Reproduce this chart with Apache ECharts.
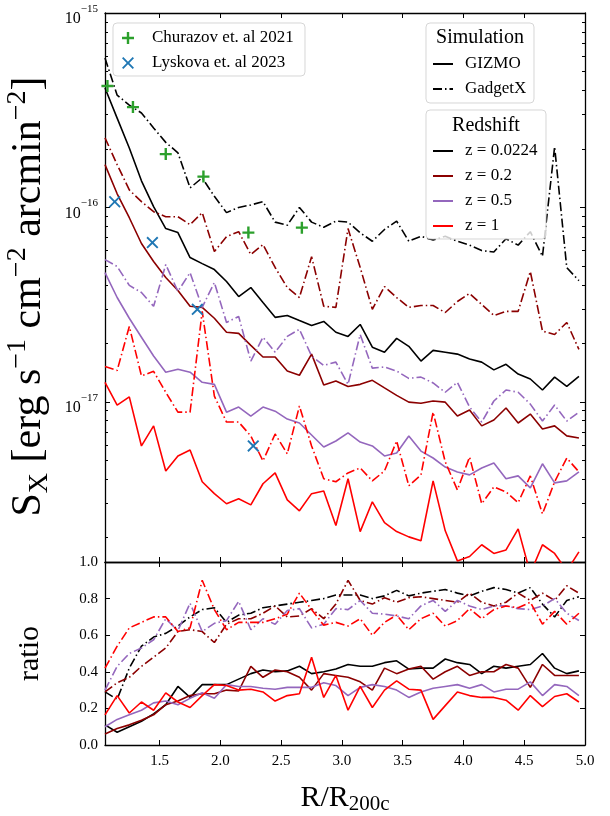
<!DOCTYPE html>
<html><head><meta charset="utf-8">
<script src="https://cdn.jsdelivr.net/npm/echarts@6/dist/echarts.min.js"></script>
<style>html,body{margin:0;padding:0;background:#fff}#c{width:610px;height:816px}</style>
</head><body><div id="c"></div>
<script>
// ---------------- data ----------------
const R = [1.05,1.15,1.25,1.35,1.45,1.55,1.65,1.75,1.85,1.95,2.05,2.15,2.25,2.35,2.45,2.55,2.65,2.75,2.85,2.95,
           3.05,3.15,3.25,3.35,3.45,3.55,3.65,3.75,3.85,3.95,4.05,4.15,4.25,4.35,4.45,4.55,4.65,4.75,4.85,4.95];
const SX_UNIT = 1e-17; // surface brightness arrays are in units of 1e-17 erg s^-1 cm^-2 arcmin^-2
const gizmo_z00224 = [41.1,28.8,20.2,13.7,10.1,7.78,7.42,5.52,5.14,4.79,4.16,3.48,3.87,3.24,2.72,2.78,2.62,2.47,2.59,2.28,
  2.17,2.50,1.91,1.80,2.12,1.93,1.62,1.84,1.80,1.76,1.66,1.60,1.46,1.56,1.39,1.31,1.15,1.34,1.20,1.35];
const gadget_z00224 = [58.6,37.8,33.6,30.6,25.6,21.6,19.1,12.6,14.2,11.4,9.4,10.0,10.3,10.7,8.4,8.1,10.0,8.4,7.9,8.5,
  8.4,7.4,6.7,7.7,8.5,6.7,7.1,6.8,7.1,6.7,6.4,6.0,5.9,6.9,6.4,7.5,5.6,20.5,4.9,4.2];
const gizmo_z02 = [16.6,11.75,8.85,6.52,5.27,4.36,3.74,3.10,3.06,2.69,2.28,2.25,1.95,1.70,1.70,1.44,1.37,1.76,1.22,1.28,
  1.20,1.23,1.29,1.18,1.08,0.996,0.984,1.01,0.996,0.845,0.908,0.752,0.806,0.929,0.778,0.865,0.725,0.752,0.668,0.651];
const gadget_z02 = [22.8,16.6,12.3,10.7,9.51,8.96,8.96,8.15,9.40,5.93,7.08,7.50,5.72,6.44,4.91,3.87,3.44,5.58,3.10,3.06,
  7.78,4.91,2.99,3.92,3.44,3.06,3.13,3.13,2.88,3.28,3.61,3.17,2.78,2.92,2.92,4.68,2.31,2.22,2.56,1.86];
const gizmo_z05 = [4.62,3.44,2.69,2.15,1.72,1.42,1.47,1.42,1.26,1.23,0.885,0.94,0.845,0.94,0.895,0.815,0.778,0.675,0.586,0.629,
  0.692,0.621,0.593,0.527,0.546,0.667,0.558,0.514,0.462,0.436,0.421,0.457,0.485,0.402,0.416,0.361,0.480,0.383,0.392,0.436];
const gadget_z05 = [5.39,4.97,3.97,3.65,3.10,5.08,3.70,4.62,3.06,4.11,2.56,2.75,1.62,2.15,1.80,2.17,2.36,1.72,1.54,1.60,
  1.23,2.22,1.49,1.51,1.44,1.32,1.34,1.25,1.12,1.26,0.94,0.787,1.01,1.15,1.12,0.973,0.796,0.962,0.796,0.885];
const gizmo_z1 = [1.26,0.962,1.06,0.593,0.752,0.441,0.527,0.565,0.388,0.337,0.299,0.317,0.295,0.379,0.431,0.313,0.275,0.337,0.348,0.231,
  0.402,0.215,0.306,0.239,0.215,0.202,0.193,0.392,0.217,0.152,0.160,0.184,0.166,0.173,0.222,0.131,0.184,0.166,0.135,0.169];
const gadget_z1 = [1.52,1.45,2.44,1.36,1.435,1.12,0.885,0.885,2.92,1.07,0.787,0.787,0.667,0.497,0.683,0.540,0.951,0.593,0.402,0.388,
  0.431,0.457,0.392,0.441,0.629,0.370,0.421,0.885,0.491,0.352,0.520,0.299,0.365,0.344,0.303,0.416,0.265,0.388,0.514,0.436];

const churazovR = [1.07,1.28,1.55,1.86,2.23,2.67];
const churazovS = [42.1,32.8,18.8,14.4,7.42,7.87];
const lyskovaR = [1.13,1.44,1.81,2.27];
const lyskovaS = [10.7,6.59,2.99,0.593];

// ratio panel
const ratioSolid_z00224 = [.11,.07,.10,.13,.17,.22,.32,.26,.33,.33,.33,.36,.39,.41,.40,.405,.43,.39,.40,.415,
  .44,.43,.43,.45,.46,.415,.42,.42,.47,.45,.44,.39,.43,.42,.43,.44,.50,.42,.39,.405];
const ratioSolid_z02 = [.06,.09,.11,.135,.165,.22,.24,.27,.28,.28,.30,.295,.43,.37,.41,.40,.37,.30,.39,.38,
  .37,.345,.30,.42,.39,.415,.43,.36,.40,.43,.38,.40,.40,.44,.42,.315,.44,.38,.38,.38];
const ratioSolid_z05 = [.10,.14,.165,.19,.23,.24,.22,.255,.285,.255,.33,.32,.32,.31,.305,.315,.315,.315,.34,.325,
  .27,.315,.33,.32,.30,.26,.29,.31,.32,.33,.31,.33,.29,.305,.305,.345,.27,.33,.32,.27];
const ratioSolid_z1 = [.165,.27,.175,.235,.19,.285,.235,.205,.27,.33,.325,.30,.305,.29,.24,.27,.28,.48,.26,.38,
  .19,.32,.205,.30,.35,.305,.30,.14,.215,.29,.27,.26,.26,.245,.19,.27,.21,.265,.28,.235];
const ratioDash_z00224 = [.29,.25,.42,.54,.59,.61,.65,.70,.74,.75,.67,.71,.72,.75,.76,.77,.78,.79,.80,.82,
  .82,.82,.80,.815,.845,.815,.83,.84,.85,.83,.815,.84,.86,.85,.83,.86,.77,.70,.79,.81];
const ratioDash_z02 = [.29,.34,.37,.43,.48,.53,.62,.63,.62,.56,.66,.69,.69,.72,.76,.70,.705,.745,.69,.77,
  .90,.79,.77,.805,.78,.805,.81,.80,.79,.78,.83,.78,.76,.78,.83,.79,.83,.79,.87,.83];
const ratioDash_z05 = [.30,.43,.50,.53,.575,.69,.625,.775,.62,.665,.68,.785,.63,.69,.66,.735,.745,.64,.66,.745,
  .74,.79,.72,.715,.705,.69,.76,.79,.73,.79,.76,.74,.76,.76,.745,.74,.76,.80,.72,.68];
const ratioDash_z1 = [.42,.54,.64,.67,.70,.70,.62,.64,.90,.74,.63,.67,.67,.67,.69,.715,.83,.74,.655,.67,
  .65,.69,.60,.67,.71,.63,.69,.72,.65,.68,.745,.69,.74,.76,.75,.78,.66,.73,.66,.72];

const X_TICKS = [1.5,2.0,2.5,3.0,3.5,4.0,4.5,5.0];
const Y_LOG_MAJOR = [1e-17,1e-16,1e-15];
const Y_RATIO_TICKS = [0,0.2,0.4,0.6,0.8,1.0];
const redshiftLabels = ['z = 0.0224','z = 0.2','z = 0.5','z = 1'];
const simLabels = ['GIZMO','GadgetX'];

// ---------------- style ----------------
const XMIN = 1.05, XMAX = 5.0, YMIN = 1.5e-18, YMAX = 1e-15;
const FONT = '"Liberation Serif","Times New Roman",serif';
const COLORS = ['#000000','#8b0000','#9467bd','#ff0000'];
const DASHDOT = [9,3,1.5,3];
const LW = 1.6;
const Y_LOG_MINOR = [];
[1e-18,1e-17,1e-16].forEach(d => { for (let m = 2; m <= 9; m++) { const v = m*d; if (v >= YMIN) Y_LOG_MINOR.push(v); } });

const pts = (xs, ys, unit) => xs.map((x,i) => [x, ys[i]*unit]);

const axisLine = {show:true, onZero:false, lineStyle:{color:'#000', width:1.3}};
function xAx(grid, pos, showLabels, extra) {
  return Object.assign({
    type:'value', gridIndex:grid, position:pos, min:XMIN, max:XMAX,
    axisLine: axisLine,
    axisTick:{show:true, inside:true, length:5, lineStyle:{color:'#000', width:1}, customValues:X_TICKS},
    axisLabel:{show:showLabels, customValues:X_TICKS, formatter:v=>v.toFixed(1), color:'#000', fontSize:15, fontFamily:FONT, margin:9},
    splitLine:{show:false}
  }, extra||{});
}
function supLabel(v){ const e = Math.round(Math.log10(v)); return '{b|10}{s|' + (e<0?'\u2212':'') + Math.abs(e) + '}'; }
function yLog(grid, pos, major, showLabels, extra) {
  return Object.assign({
    type:'log', logBase:10, gridIndex:grid, position:pos, min:YMIN, max:YMAX,
    axisLine: major ? axisLine : {show:false},
    axisTick:{show:true, inside:true, length: major?5:3, lineStyle:{color:'#000', width:1}, customValues: major?Y_LOG_MAJOR:Y_LOG_MINOR},
    axisLabel:{show:showLabels, customValues:Y_LOG_MAJOR, formatter:supLabel, margin:7,
      rich:{ b:{fontFamily:FONT, fontSize:16, color:'#000', lineHeight:16, padding:[12,0,0,0]},
             s:{fontFamily:FONT, fontSize:11, color:'#000', lineHeight:12, padding:[0,0,8,0]} }},
    splitLine:{show:false}, minorTick:{show:false}
  }, extra||{});
}
function yRatio(pos, showLabels, extra) {
  return Object.assign({
    type:'value', gridIndex:1, position:pos, min:0, max:1,
    axisLine: axisLine,
    axisTick:{show:true, inside:true, length:5, lineStyle:{color:'#000', width:1}, customValues:Y_RATIO_TICKS},
    axisLabel:{show:showLabels, customValues:Y_RATIO_TICKS, formatter:v=>v.toFixed(1), color:'#000', fontSize:15, fontFamily:FONT, margin:7},
    splitLine:{show:false}
  }, extra||{});
}

const series = [];
const topSets = [[gizmo_z00224, gadget_z00224],[gizmo_z02, gadget_z02],[gizmo_z05, gadget_z05],[gizmo_z1, gadget_z1]];
const ratioSets = [[ratioSolid_z00224, ratioDash_z00224],[ratioSolid_z02, ratioDash_z02],[ratioSolid_z05, ratioDash_z05],[ratioSolid_z1, ratioDash_z1]];
topSets.forEach((pair, i) => {
  pair.forEach((arr, j) => {
    series.push({type:'line', name:simLabels[j]+' '+redshiftLabels[i], xAxisIndex:0, yAxisIndex:0,
      data: pts(R, arr, SX_UNIT), symbol:'none', showSymbol:false, clip:true, z:2,
      lineStyle:{color:COLORS[i], width:LW, type: j===0?'solid':DASHDOT}, itemStyle:{color:COLORS[i]}});
  });
});
ratioSets.forEach((pair, i) => {
  pair.forEach((arr, j) => {
    series.push({type:'line', name:'ratio '+simLabels[j]+' '+redshiftLabels[i], xAxisIndex:2, yAxisIndex:2,
      data: pts(R, arr, 1), symbol:'none', showSymbol:false, clip:true, z:2,
      lineStyle:{color:COLORS[i], width:LW, type: j===0?'solid':DASHDOT}, itemStyle:{color:COLORS[i]}});
  });
});
const PLUS = 'path://M4,0L6,0L6,4L10,4L10,6L6,6L6,10L4,10L4,6L0,6L0,4L4,4Z';
const CROSS = 'path://M1.1,0L5,3.9L8.9,0L10,1.1L6.1,5L10,8.9L8.9,10L5,6.1L1.1,10L0,8.9L3.9,5L0,1.1Z';
series.push({type:'scatter', name:'Churazov et. al 2021', xAxisIndex:0, yAxisIndex:0, data:pts(churazovR, churazovS, SX_UNIT),
  symbol:PLUS, symbolSize:12, itemStyle:{color:'#2ca02c', opacity:1}, z:5});
series.push({type:'scatter', name:'Lyskova et. al 2023', xAxisIndex:0, yAxisIndex:0, data:pts(lyskovaR, lyskovaS, SX_UNIT),
  symbol:CROSS, symbolSize:12, itemStyle:{color:'#1f77b4', opacity:1}, z:5});
// legend-only entries
simLabels.forEach((n, j) => series.push({type:'line', name:n, xAxisIndex:0, yAxisIndex:0, data:[], symbol:'none',
  lineStyle:{color:'#000', width:LW, type: j===0?'solid':DASHDOT}, itemStyle:{color:'#000'}}));
redshiftLabels.forEach((n, i) => series.push({type:'line', name:n, xAxisIndex:0, yAxisIndex:0, data:[], symbol:'none',
  lineStyle:{color:COLORS[i], width:2.6, type:'solid'}, itemStyle:{color:COLORS[i]}}));

const legendText = pad => ({fontFamily:FONT, fontSize:17, color:'#000', lineHeight:20, padding:[0,0,0,pad]});
const boxStyle = {fill:'rgba(255,255,255,0.8)', stroke:'rgba(204,204,204,0.8)', lineWidth:1};

const option = {
  animation:false,
  backgroundColor:'#fff',
  textStyle:{fontFamily:FONT},
  grid:[
    {left:105, right:25, top:13, height:549, outerBoundsMode:'none', containLabel:false},
    {left:105, right:25, top:562, height:183, outerBoundsMode:'none', containLabel:false},
    {left:105, right:25, top:13, height:549, outerBoundsMode:'none', containLabel:false}
  ],
  xAxis:[
    xAx(0,'bottom',false),
    xAx(0,'top',false),
    xAx(1,'bottom',true,{name:'{n|R/R}{sub|200c}', nameLocation:'middle', nameGap:36,
       nameTextStyle:{rich:{n:{fontFamily:FONT, fontSize:30, color:'#000', lineHeight:34},
                            sub:{fontFamily:FONT, fontSize:21, color:'#000', verticalAlign:'bottom', lineHeight:26}}}}),
    xAx(1,'top',false),
    {type:'value', gridIndex:2, min:XMIN, max:XMAX, show:false}
  ],
  yAxis:[
    yLog(0,'left',true,true,{name:'{n|S}{sub|X}{n| [erg s}{sup|\u22121}{n| cm}{sup|\u22122}{n| arcmin}{sup|\u22122}{n|]}',
       nameLocation:'middle', nameRotate:90, nameGap:47,
       nameTextStyle:{padding:[0,18,0,0],
                      rich:{n:{fontFamily:FONT, fontSize:42, color:'#000', lineHeight:50},
                            sub:{fontFamily:FONT, fontSize:28, color:'#000', verticalAlign:'bottom', lineHeight:38},
                            sup:{fontFamily:FONT, fontSize:28, color:'#000', verticalAlign:'top', lineHeight:32}}}}),
    yLog(0,'right',true,false),
    yRatio('left',true,{name:'ratio', nameLocation:'middle', nameRotate:90, nameGap:60,
       nameTextStyle:{fontFamily:FONT, fontSize:30, color:'#000'}}),
    yRatio('right',false),
    yLog(2,'left',false,false),
    yLog(2,'right',false,false)
  ],
  legend:[
    {data:['Churazov et. al 2021','Lyskova et. al 2023'], orient:'vertical', left:122, top:28, padding:0,
     itemWidth:12, itemHeight:12, itemGap:5, selectedMode:false, textStyle:legendText(13), z:6},
    {data:simLabels, orient:'vertical', left:432, top:54, padding:0, itemStyle:{opacity:0},
     itemWidth:20, itemHeight:10, itemGap:5, selectedMode:false, textStyle:legendText(7), z:6},
    {data:redshiftLabels, orient:'vertical', left:432, top:141, padding:0, itemStyle:{opacity:0},
     itemWidth:20, itemHeight:10, itemGap:5, selectedMode:false, textStyle:legendText(7), z:6}
  ],
  graphic:[
    {type:'rect', shape:{x:113, y:23, width:192, height:53, r:4}, style:boxStyle, z:4},
    {type:'rect', shape:{x:426, y:23, width:108, height:80, r:4}, style:boxStyle, z:4},
    {type:'rect', shape:{x:426, y:110, width:120, height:129, r:4}, style:boxStyle, z:4},
    {type:'text', x:480, y:38, style:{text:'Simulation', fontFamily:FONT, fontSize:20, fill:'#000', align:'center', verticalAlign:'middle'}, z:7},
    {type:'text', x:486, y:126, style:{text:'Redshift', fontFamily:FONT, fontSize:20, fill:'#000', align:'center', verticalAlign:'middle'}, z:7}
  ],
  series: series
};
const chart = echarts.init(document.getElementById('c'), null, {renderer:'canvas'});
chart.setOption(option);
</script></body></html>
